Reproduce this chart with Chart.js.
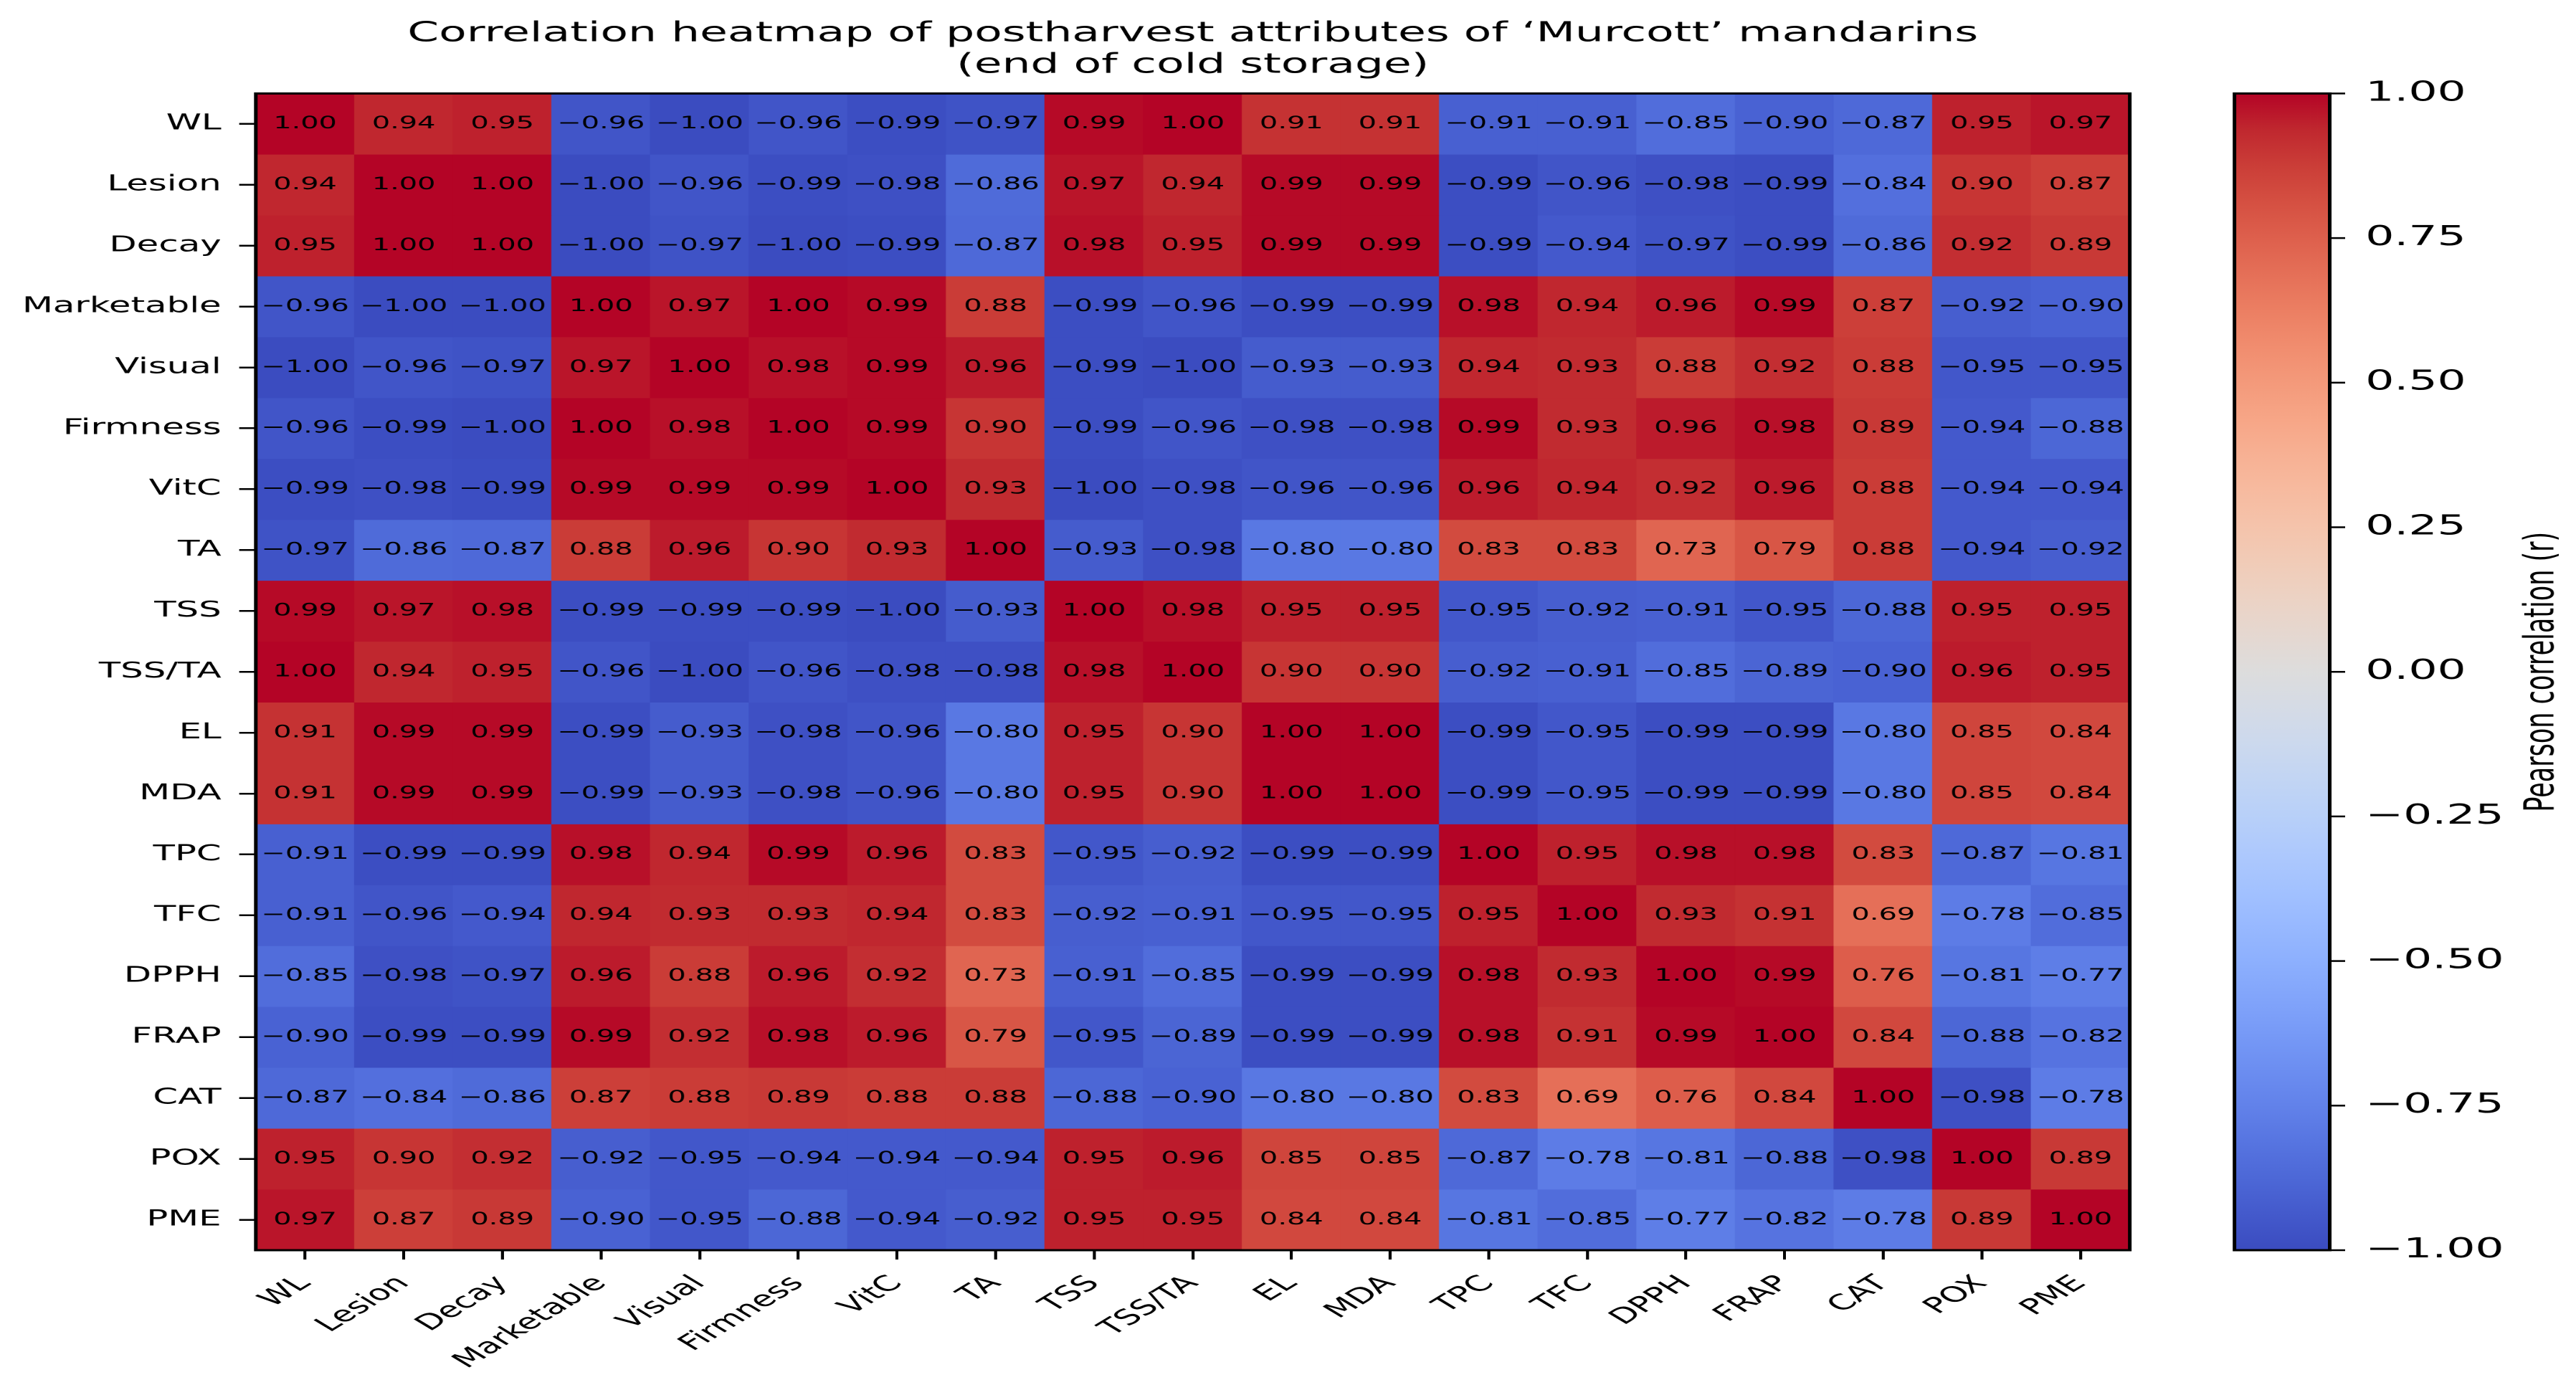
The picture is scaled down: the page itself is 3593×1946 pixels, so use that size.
<!DOCTYPE html>
<html>
<head>
<meta charset="utf-8">
<title>Correlation heatmap - Murcott</title>
<script src="https://cdn.jsdelivr.net/npm/chart.js@4.4.1/dist/chart.umd.min.js"></script>
<style>
  html, body { margin: 0; padding: 0; background: #fff; overflow: hidden; }
</style>
</head>
<body>
<!-- the reference figure is stretched sideways: the chart is laid out 2165 wide and shown 3593 wide -->
<canvas id="mapaCalor" width="2165" height="1946" style="display:block;width:3593px;height:1946px"></canvas>
<script>
const variables = ['WL', 'Lesion', 'Decay', 'Marketable', 'Visual', 'Firmness', 'VitC', 'TA', 'TSS',
    'TSS/TA', 'EL', 'MDA', 'TPC', 'TFC', 'DPPH', 'FRAP', 'CAT', 'POX', 'PME'];

const rWL         = [1.00, 0.94, 0.95, -0.96, -1.00, -0.96, -0.99, -0.97, 0.99, 1.00, 0.91, 0.91, -0.91, -0.91, -0.85, -0.90, -0.87, 0.95, 0.97];
const rLesion     = [0.94, 1.00, 1.00, -1.00, -0.96, -0.99, -0.98, -0.86, 0.97, 0.94, 0.99, 0.99, -0.99, -0.96, -0.98, -0.99, -0.84, 0.90, 0.87];
const rDecay      = [0.95, 1.00, 1.00, -1.00, -0.97, -1.00, -0.99, -0.87, 0.98, 0.95, 0.99, 0.99, -0.99, -0.94, -0.97, -0.99, -0.86, 0.92, 0.89];
const rMarketable = [-0.96, -1.00, -1.00, 1.00, 0.97, 1.00, 0.99, 0.88, -0.99, -0.96, -0.99, -0.99, 0.98, 0.94, 0.96, 0.99, 0.87, -0.92, -0.90];
const rVisual     = [-1.00, -0.96, -0.97, 0.97, 1.00, 0.98, 0.99, 0.96, -0.99, -1.00, -0.93, -0.93, 0.94, 0.93, 0.88, 0.92, 0.88, -0.95, -0.95];
const rFirmness   = [-0.96, -0.99, -1.00, 1.00, 0.98, 1.00, 0.99, 0.90, -0.99, -0.96, -0.98, -0.98, 0.99, 0.93, 0.96, 0.98, 0.89, -0.94, -0.88];
const rVitC       = [-0.99, -0.98, -0.99, 0.99, 0.99, 0.99, 1.00, 0.93, -1.00, -0.98, -0.96, -0.96, 0.96, 0.94, 0.92, 0.96, 0.88, -0.94, -0.94];
const rTA         = [-0.97, -0.86, -0.87, 0.88, 0.96, 0.90, 0.93, 1.00, -0.93, -0.98, -0.80, -0.80, 0.83, 0.83, 0.73, 0.79, 0.88, -0.94, -0.92];
const rTSS        = [0.99, 0.97, 0.98, -0.99, -0.99, -0.99, -1.00, -0.93, 1.00, 0.98, 0.95, 0.95, -0.95, -0.92, -0.91, -0.95, -0.88, 0.95, 0.95];
const rTSSTA      = [1.00, 0.94, 0.95, -0.96, -1.00, -0.96, -0.98, -0.98, 0.98, 1.00, 0.90, 0.90, -0.92, -0.91, -0.85, -0.89, -0.90, 0.96, 0.95];
const rEL         = [0.91, 0.99, 0.99, -0.99, -0.93, -0.98, -0.96, -0.80, 0.95, 0.90, 1.00, 1.00, -0.99, -0.95, -0.99, -0.99, -0.80, 0.85, 0.84];
const rMDA        = [0.91, 0.99, 0.99, -0.99, -0.93, -0.98, -0.96, -0.80, 0.95, 0.90, 1.00, 1.00, -0.99, -0.95, -0.99, -0.99, -0.80, 0.85, 0.84];
const rTPC        = [-0.91, -0.99, -0.99, 0.98, 0.94, 0.99, 0.96, 0.83, -0.95, -0.92, -0.99, -0.99, 1.00, 0.95, 0.98, 0.98, 0.83, -0.87, -0.81];
const rTFC        = [-0.91, -0.96, -0.94, 0.94, 0.93, 0.93, 0.94, 0.83, -0.92, -0.91, -0.95, -0.95, 0.95, 1.00, 0.93, 0.91, 0.69, -0.78, -0.85];
const rDPPH       = [-0.85, -0.98, -0.97, 0.96, 0.88, 0.96, 0.92, 0.73, -0.91, -0.85, -0.99, -0.99, 0.98, 0.93, 1.00, 0.99, 0.76, -0.81, -0.77];
const rFRAP       = [-0.90, -0.99, -0.99, 0.99, 0.92, 0.98, 0.96, 0.79, -0.95, -0.89, -0.99, -0.99, 0.98, 0.91, 0.99, 1.00, 0.84, -0.88, -0.82];
const rCAT        = [-0.87, -0.84, -0.86, 0.87, 0.88, 0.89, 0.88, 0.88, -0.88, -0.90, -0.80, -0.80, 0.83, 0.69, 0.76, 0.84, 1.00, -0.98, -0.78];
const rPOX        = [0.95, 0.90, 0.92, -0.92, -0.95, -0.94, -0.94, -0.94, 0.95, 0.96, 0.85, 0.85, -0.87, -0.78, -0.81, -0.88, -0.98, 1.00, 0.89];
const rPME        = [0.97, 0.87, 0.89, -0.90, -0.95, -0.88, -0.94, -0.92, 0.95, 0.95, 0.84, 0.84, -0.81, -0.85, -0.77, -0.82, -0.78, 0.89, 1.00];

const filas = [rWL, rLesion, rDecay, rMarketable, rVisual, rFirmness, rVitC, rTA, rTSS, rTSSTA,
    rEL, rMDA, rTPC, rTFC, rDPPH, rFRAP, rCAT, rPOX, rPME];

const ticksBarra = [-1, -0.75, -0.5, -0.25, 0, 0.25, 0.5, 0.75, 1];

const titulo = ['Correlation heatmap of postharvest attributes of \u2018Murcott\u2019 mandarins',
    '(end of cold storage)'];
const tituloBarra = 'Pearson correlation (r)';

// matplotlib "coolwarm", 33 samples from -1 to 1
const coolwarm = [
    [59, 76, 192], [68, 90, 204], [77, 104, 215], [87, 117, 225], [98, 130, 234], [108, 142, 241],
    [119, 154, 247], [130, 165, 251], [141, 176, 254], [152, 185, 255], [163, 194, 255], [174, 201, 253],
    [184, 208, 249], [194, 213, 244], [204, 217, 238], [213, 219, 230], [221, 221, 221], [229, 216, 209],
    [236, 211, 197], [241, 204, 184], [245, 196, 172], [247, 187, 160], [247, 177, 148], [247, 166, 135],
    [244, 154, 123], [241, 141, 111], [236, 127, 99], [229, 112, 88], [222, 96, 77], [213, 80, 66],
    [203, 62, 56], [192, 40, 47], [180, 4, 38]
];

function colorDe(v) {
    const t = (Math.max(-1, Math.min(1, v)) + 1) / 2 * (coolwarm.length - 1);
    const i = Math.min(coolwarm.length - 2, Math.floor(t));
    const f = t - i;
    const a = coolwarm[i], b = coolwarm[i + 1];
    const c = a.map((x, k) => Math.round(x + (b[k] - x) * f));
    return 'rgb(' + c.join(',') + ')';
}

function formato(v) {
    return v.toFixed(2).replace('-', '\u2212');
}

const fuente = '"DejaVu Sans", "Liberation Sans", sans-serif';
Chart.defaults.font.family = fuente;
Chart.defaults.color = '#000';

// numbers inside the cells + black frame round the heatmap
const etiquetasCeldas = {
    id: 'etiquetasCeldas',
    afterDatasetsDraw(chart) {
        const ctx = chart.ctx;
        ctx.save();
        ctx.font = '24px ' + fuente;
        ctx.fillStyle = '#000';
        ctx.textAlign = 'center';
        ctx.textBaseline = 'middle';
        filas.forEach((fila, i) => {
            const meta = chart.getDatasetMeta(i);
            fila.forEach((v, j) => {
                const barra = meta.data[j];
                ctx.fillText(formato(v), barra.x, (barra.y + barra.base) / 2);
            });
        });
        const a = chart.chartArea;
        ctx.lineWidth = 3;
        ctx.strokeStyle = '#000';
        ctx.strokeRect(a.left, a.top, a.right - a.left, a.bottom - a.top);
        ctx.restore();
    }
};

// colour bar drawn against the 'cb' scale
const barraColor = {
    id: 'barraColor',
    afterDraw(chart) {
        const s = chart.scales.cb;
        const ctx = chart.ctx;
        const x0 = s.left + 88;
        const x1 = s.left + 168;
        const yArriba = s.getPixelForValue(1);
        const yAbajo = s.getPixelForValue(-1);
        ctx.save();
        const grad = ctx.createLinearGradient(0, yAbajo, 0, yArriba);
        coolwarm.forEach((c, k) => grad.addColorStop(k / (coolwarm.length - 1), 'rgb(' + c.join(',') + ')'));
        ctx.fillStyle = grad;
        ctx.fillRect(x0, yArriba, x1 - x0, yAbajo - yArriba);
        ctx.lineWidth = 3;
        ctx.strokeStyle = '#000';
        ctx.strokeRect(x0, yArriba, x1 - x0, yAbajo - yArriba);
        ctx.lineWidth = 2.5;
        ticksBarra.forEach(t => {
            const y = s.getPixelForValue(t);
            ctx.beginPath();
            ctx.moveTo(x1, y);
            ctx.lineTo(x1 + 13, y);
            ctx.stroke();
        });
        ctx.translate(s.left + 347, (yArriba + yAbajo) / 2);
        ctx.rotate(-Math.PI / 2);
        ctx.font = '35px ' + fuente;
        ctx.fillStyle = '#000';
        ctx.textAlign = 'center';
        ctx.textBaseline = 'middle';
        ctx.fillText(tituloBarra, 0, 0);
        ctx.restore();
    }
};

const datasets = filas.map((fila, i) => ({
    label: variables[i],
    data: fila.map(() => [i, i + 1]),
    backgroundColor: fila.map(colorDe),
    borderWidth: 0,
    grouped: false,
    barPercentage: 1,
    categoryPercentage: 1
}));

new Chart(document.getElementById('mapaCalor'), {
    type: 'bar',
    data: { labels: variables, datasets: datasets },
    options: {
        responsive: false,
        animation: false,
        devicePixelRatio: 2,
        layout: { padding: 0 },
        scales: {
            x: {
                type: 'category',
                offset: true,
                grid: { drawOnChartArea: false, offset: false, tickLength: 13, color: '#000', lineWidth: 2.5 },
                border: { display: false },
                ticks: { autoSkip: false, maxRotation: 45, minRotation: 45, padding: 16, font: { size: 30 } },
                afterFit: s => { s.height = 202; }
            },
            y: {
                type: 'linear',
                position: 'left',
                min: 0,
                max: variables.length,
                reverse: true,
                afterBuildTicks: s => { s.ticks = variables.map((_, i) => ({ value: i + 0.5 })); },
                grid: { drawOnChartArea: false, tickLength: 14, color: '#000', lineWidth: 2.5 },
                border: { display: false },
                ticks: { autoSkip: false, padding: 15, font: { size: 30 }, callback: (v, i) => variables[i] },
                afterFit: s => { s.width = 215; }
            },
            cb: {
                type: 'linear',
                position: 'right',
                min: -1,
                max: 1,
                afterBuildTicks: s => { s.ticks = ticksBarra.map(v => ({ value: v })); },
                grid: { display: false, drawTicks: false },
                border: { display: false },
                ticks: { padding: 198, font: { size: 38 }, callback: v => formato(v) },
                // the big label padding must not push the chart area down
                afterFit: s => { s.width = 375; s.paddingTop = 0; s.paddingBottom = 0; }
            }
        },
        plugins: {
            legend: { display: false },
            tooltip: { enabled: false },
            title: {
                display: true,
                text: titulo,
                fullSize: false,
                color: '#000',
                font: { size: 38, weight: 'normal', lineHeight: 1.15 },
                padding: { top: 26, bottom: 17 }
            }
        }
    },
    plugins: [etiquetasCeldas, barraColor]
});
</script>
</body>
</html>
